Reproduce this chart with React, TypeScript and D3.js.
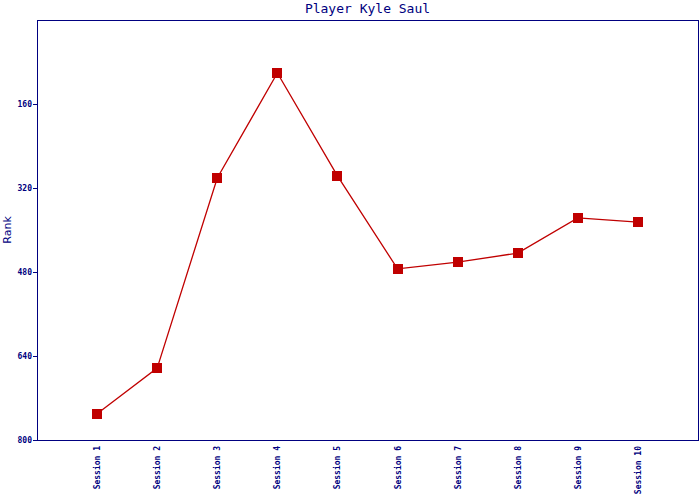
import React from "react";
import * as d3 from "d3";

const sessions = ["Session 1","Session 2","Session 3","Session 4","Session 5","Session 6","Session 7","Session 8","Session 9","Session 10"];
const ranks = [750, 663, 301, 101, 297, 474, 461, 444, 377, 385];
const yTicks = [160, 320, 480, 640, 800];
const title = "Player Kyle Saul";
const yLabel = "Rank";

const W = 700, H = 500;
const M = { left: 37, right: 698, top: 20, bottom: 440 };
const NAVY = "#000080";
const RED = "#c00000";
const MONO = "'DejaVu Sans Mono', monospace";

export default function App() {
  const x = d3.scalePoint<string>().domain(sessions).range([M.left, M.right]).padding(1);
  const y = d3.scaleLinear().domain([0, 800]).range([M.top, M.bottom]);
  const line = d3.line<number>().x((_, i) => x(sessions[i])!).y(d => y(d));
  return (
    <svg width={W} height={H} style={{ position: "absolute", left: 0, top: 0, background: "#fff" }}>
      <text x={(M.left + M.right) / 2} y={13} textAnchor="middle" fontFamily={MONO} fontSize={13} fill={NAVY}>{title}</text>
      <rect x={M.left} y={M.top} width={M.right - M.left} height={M.bottom - M.top} fill="none" stroke={NAVY} strokeWidth={1} shapeRendering="crispEdges" />
      {yTicks.map(t => (
        <g key={t}>
          <line x1={M.left - 4} x2={M.left} y1={y(t)} y2={y(t)} stroke={NAVY} shapeRendering="crispEdges" />
          <text x={M.left - 5} y={y(t)} dy="0.35em" textAnchor="end" fontFamily={MONO} fontSize={8} fontWeight="bold" fill={NAVY}>{t}</text>
        </g>
      ))}
      {sessions.map(s => (
        <text key={s} transform={`translate(${x(s)! + 3},${M.bottom + 6}) rotate(-90)`} textAnchor="end" fontFamily={MONO} fontSize={8} fontWeight="bold" fill={NAVY}>{s}</text>
      ))}
      <text transform={`translate(11,${(M.top + M.bottom) / 2}) rotate(-90)`} textAnchor="middle" fontFamily="'DejaVu Sans', sans-serif" fontSize={11} fill={NAVY}>{yLabel}</text>
      <path d={line(ranks)!} fill="none" stroke={RED} strokeWidth={1.3} />
      {ranks.map((r, i) => (
        <rect key={i} x={x(sessions[i])! - 5} y={y(r) - 5} width={10} height={10} fill={RED} shapeRendering="crispEdges" />
      ))}
    </svg>
  );
}
